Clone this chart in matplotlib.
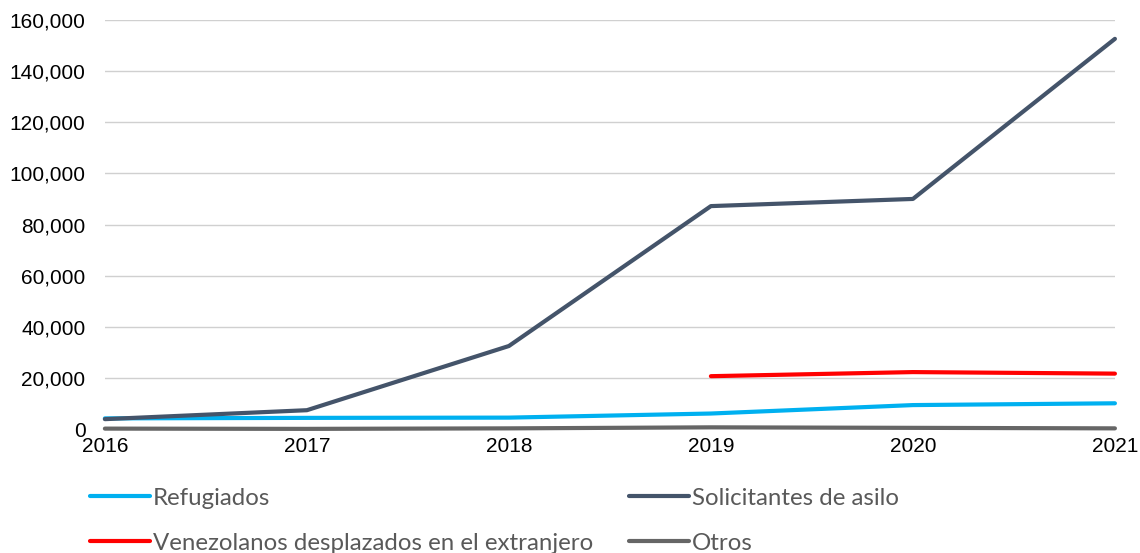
import matplotlib
matplotlib.use("Agg")
import matplotlib.pyplot as plt
from matplotlib.ticker import FuncFormatter

years = [2016, 2017, 2018, 2019, 2020, 2021]
refugiados = [4200, 4400, 4500, 6100, 9400, 10100]
solicitantes = [3900, 7400, 32500, 87200, 90000, 152600]
venez_years = [2019, 2020, 2021]
venezolanos = [20700, 22300, 21700]
otros = [200, 100, 300, 700, 500, 300]

fig = plt.figure(figsize=(11.4, 5.53), dpi=100)
ax = fig.add_axes([0.092, 0.224, 0.886, 0.740])

lw = 3
l1, = ax.plot(years, refugiados, color="#00B0F0", lw=lw, label="Refugiados", clip_on=False, zorder=3, solid_capstyle="round")
l2, = ax.plot(years, solicitantes, color="#44546A", lw=lw, label="Solicitantes de asilo", clip_on=False, zorder=3, solid_capstyle="round")
l3, = ax.plot(venez_years, venezolanos, color="#FF0000", lw=lw, label="Venezolanos desplazados en el extranjero", clip_on=False, zorder=3, solid_capstyle="round")
l4, = ax.plot(years, otros, color="#666666", lw=lw, label="Otros", clip_on=False, zorder=3, solid_capstyle="round")

ax.set_xlim(2016, 2021)
ax.set_ylim(0, 160000)
ax.set_yticks(range(0, 160001, 20000))
ax.set_xticks(years)
ax.yaxis.set_major_formatter(FuncFormatter(lambda v, p: f"{int(v):,}"))
ax.grid(axis="y", color="#D0D0D0", lw=1)
ax.set_axisbelow(True)
for s in ax.spines.values():
    s.set_visible(False)
ax.tick_params(length=0, labelsize=15, colors="black")
ax.tick_params(axis="y", pad=14)
ax.tick_params(axis="x", pad=6)
for t in ax.get_xticklabels() + ax.get_yticklabels():
    t.set_fontfamily("Liberation Sans")

fig.legend(handles=[l1, l3, l2, l4], loc="upper left", bbox_to_anchor=(0.079, 0.118),
           ncol=2, frameon=False, prop={"family": "Lato", "size": 17.3},
           labelcolor="#595959", handlelength=2.5, handletextpad=0.12,
           columnspacing=1.5, labelspacing=1.0, borderaxespad=0, borderpad=0)

fig.savefig("out.png", dpi=100)
